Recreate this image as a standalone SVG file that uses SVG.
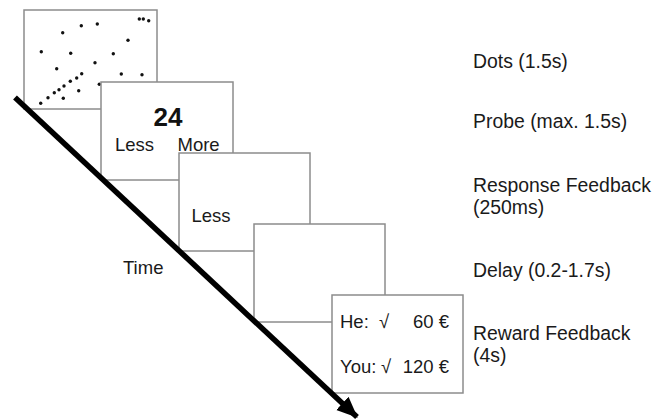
<svg xmlns="http://www.w3.org/2000/svg" width="665" height="419" viewBox="0 0 665 419">
<defs>
<style>
.panel{fill:#fff;stroke:#8c8c8c;stroke-width:1.5}
.t{font-family:"Liberation Sans",Arial,sans-serif;font-size:18.5px;fill:#1a1a1a}
.lab{font-family:"Liberation Sans",Arial,sans-serif;font-size:19.4px;fill:#1a1a1a}
.dot{fill:#111}
</style>
<marker id="ah" markerUnits="userSpaceOnUse" markerWidth="22" markerHeight="22" viewBox="0 0 22 22" refX="20" refY="11" orient="auto">
<path d="M0,2 L21,11 L0,20 Z" fill="#000"/>
</marker>
</defs>
<rect width="665" height="419" fill="#fff"/>
<g id="dots-panel">
<rect class="panel" x="24" y="10" width="133" height="99"/>
<g>
<circle class="dot" cx="139.3" cy="19" r="1.7"/>
<circle class="dot" cx="143.3" cy="19" r="1.7"/>
<circle class="dot" cx="148.7" cy="20.7" r="1.7"/>
<circle class="dot" cx="81.3" cy="25.7" r="1.7"/>
<circle class="dot" cx="97.3" cy="24" r="1.7"/>
<circle class="dot" cx="62.7" cy="32.7" r="1.7"/>
<circle class="dot" cx="128" cy="40.3" r="1.7"/>
<circle class="dot" cx="41.3" cy="51.7" r="1.7"/>
<circle class="dot" cx="70.7" cy="53.3" r="1.7"/>
<circle class="dot" cx="113.3" cy="53.7" r="1.7"/>
<circle class="dot" cx="95" cy="62.7" r="1.7"/>
<circle class="dot" cx="56.7" cy="68.7" r="1.7"/>
<circle class="dot" cx="121.3" cy="74" r="1.7"/>
<circle class="dot" cx="142" cy="74.7" r="1.7"/>
<circle class="dot" cx="81.7" cy="73.7" r="1.7"/>
<circle class="dot" cx="76.7" cy="78" r="1.7"/>
<circle class="dot" cx="70.3" cy="81.3" r="1.7"/>
<circle class="dot" cx="64" cy="86" r="1.7"/>
<circle class="dot" cx="59" cy="89.7" r="1.7"/>
<circle class="dot" cx="54.3" cy="92.7" r="1.7"/>
<circle class="dot" cx="48" cy="97.7" r="1.7"/>
<circle class="dot" cx="40.7" cy="103.3" r="1.7"/>
<circle class="dot" cx="78.7" cy="90.7" r="1.7"/>
<circle class="dot" cx="63.3" cy="98.3" r="1.7"/>
<circle class="dot" cx="99.3" cy="84.3" r="1.7"/>
</g>
</g>
<g id="probe-panel">
<rect class="panel" x="101" y="82" width="132" height="98"/>
<text x="168" y="126" text-anchor="middle" style="font-family:'Liberation Sans',Arial,sans-serif;font-size:26px;font-weight:bold;fill:#111">24</text>
<text class="t" x="115" y="151">Less</text>
<text class="t" x="177.5" y="151">More</text>
</g>
<g id="response-panel">
<rect class="panel" x="179" y="153" width="131" height="98"/>
<text class="t" x="191.5" y="222">Less</text>
</g>
<g id="delay-panel">
<rect class="panel" x="254" y="224" width="131" height="98"/>
</g>
<g id="reward-panel">
<rect class="panel" x="332" y="295" width="131" height="98"/>
<text class="t" x="340" y="328">He:</text>
<text class="t" x="379" y="328">√</text>
<text class="t" x="449" y="328" text-anchor="end">60 €</text>
<text class="t" x="340" y="373">You:</text>
<text class="t" x="381" y="373">√</text>
<text class="t" x="449" y="373" text-anchor="end">120 €</text>
</g>
<g id="connectors">
<line x1="15" y1="97.5" x2="357" y2="417" stroke="#000" stroke-width="5.5" marker-end="url(#ah)"/>
</g>
<g id="time-label">
<text class="t" x="123" y="274">Time</text>
</g>
<g id="labels">
<text class="lab" x="473" y="68">Dots (1.5s)</text>
<text class="lab" x="473" y="128">Probe (max. 1.5s)</text>
<text class="lab" x="473" y="192">Response Feedback</text>
<text class="lab" x="473" y="214">(250ms)</text>
<text class="lab" x="473" y="277">Delay (0.2-1.7s)</text>
<text class="lab" x="473" y="340">Reward Feedback</text>
<text class="lab" x="473" y="362">(4s)</text>
</g>
</svg>
